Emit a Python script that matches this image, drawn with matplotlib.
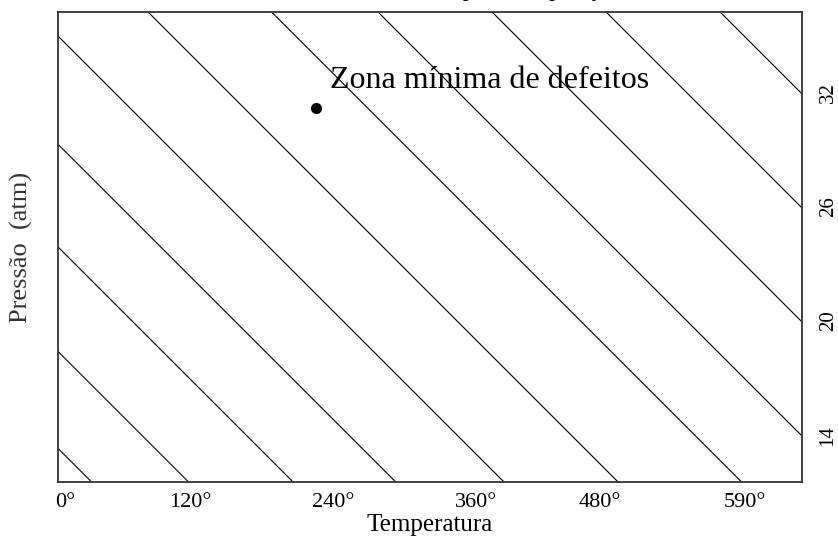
import numpy as np
import matplotlib
matplotlib.use("Agg")
import matplotlib.pyplot as plt

plt.rcParams['font.family'] = ['Liberation Serif', 'DejaVu Serif']

# linhas de mesmo nivel: P = c + inclinacao * T
interceptos = [13.3, 18.4, 23.9, 29.3, 35.0, 41.0, 47.5, 53.1, 59.1, 65.1, 71.1]
inclinacao = -0.0605

# ponto otimo
temp_otima = 224
pressao_otima = 31.2

# eixos
xticks_pos = [6, 115, 239, 364, 471, 597]
xticks_txt = ["0°", "120°", "240°", "360°", "480°", "590°"]
yticks_pos = [14, 20, 26, 32]
yticks_txt = ["14", "20", "26", "32"]

fig = plt.figure(figsize=(8.38, 5.47), dpi=100)
ax = fig.add_axes([0.0692, 0.1188, 0.8878, 0.8592])

T = np.linspace(0, 647, 50)
for c in interceptos:
    ax.plot(T, c + inclinacao * T, color='black', lw=0.8)

ax.plot(temp_otima, pressao_otima, 'o', color='black', markersize=7)
ax.text(236.5, 32.27, "Zona mínima de defeitos", fontsize=23, va='baseline')

ax.set_xlim(0, 647)
ax.set_ylim(11.53, 36.26)

ax.set_xticks(xticks_pos)
ax.set_xticklabels(xticks_txt, fontsize=16)
ax.yaxis.tick_right()
ax.set_yticks(yticks_pos)
ax.set_yticklabels(yticks_txt, fontsize=15, rotation=90, va='center')
ax.tick_params(axis='both', length=0)
ax.tick_params(axis='x', pad=8)
ax.tick_params(axis='y', pad=12)

ax.set_xlabel("Temperatura", fontsize=18, labelpad=1)
ax.set_ylabel("Pressão  (atm)", fontsize=19, color='#333333', labelpad=18)
ax.yaxis.set_label_position('left')

for s in ax.spines.values():
    s.set_color('#333333')
    s.set_linewidth(1.3)

# titulo cortado no topo da figura
fig.text(0.502, 1.007, "Tempo e composição", fontsize=17, va='baseline')

plt.savefig('out.png', dpi=100)
